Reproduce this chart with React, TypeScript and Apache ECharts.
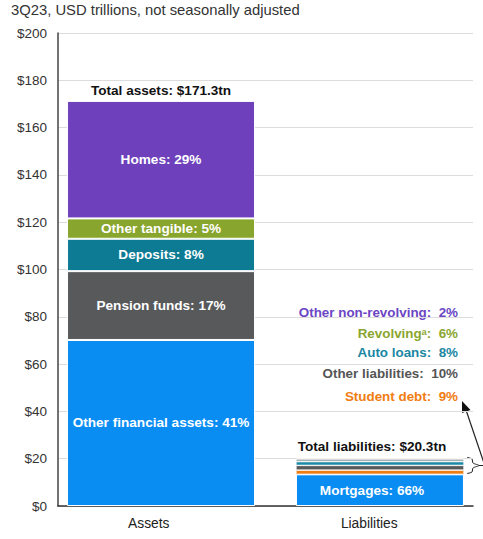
import React, { useEffect, useRef } from "react";
import * as echarts from "echarts";

const categories = ["Assets", "Liabilities"];
const yTicks = [0, 20, 40, 60, 80, 100, 120, 140, 160, 180, 200];

const assetNames = ["Other financial assets", "Pension funds", "Deposits", "Other tangible", "Homes"];
const assetValues = [70.2, 29.1, 13.7, 8.6, 49.7];
const assetPcts = [41, 17, 8, 5, 29];
const assetColors = ["#0A8DF2", "#58595B", "#0E7B94", "#88A52D", "#6E40BB"];

const liabNames = ["Mortgages", "Student debt", "Other liabilities", "Auto loans", "Revolving*", "Other non-revolving"];
const liabLabels = ["Mortgages", "Student debt", "Other liabilities", "Auto loans", "Revolving\u1D43", "Other non-revolving"];
const liabValues = [13.4, 1.77, 2.0, 1.6, 1.15, 0.38];
const liabPcts = [66, 9, 10, 8, 6, 2];
const liabColors = ["#0A8DF2", "#F07D12", "#58595B", "#1A8AA6", "#9AA5A9", "#88A52D"];
const liabTextColors = ["#0A8DF2", "#F07D12", "#555555", "#1A87A3", "#8AA62F", "#6B45C4"];

const totalAssets = 171.3;
const totalLiabilities = 20.3;

const FONT = "'Liberation Sans', Arial, sans-serif";
const A_W = 188;
const L_W = 168;
const GAP = "-88.6%";

export default function App() {
  const ref = useRef<HTMLDivElement>(null);
  useEffect(() => {
    if (!ref.current) return;
    const chart = echarts.init(ref.current, undefined, { renderer: "svg" });
    const boldLabel = {
      color: "#ffffff",
      fontWeight: "bold",
      fontSize: 13.6,
      fontFamily: FONT,
    };
    const series: any[] = [];
    assetNames.forEach((n, i) => {
      series.push({
        name: n,
        type: "bar",
        stack: "A",
        barWidth: A_W,
        barGap: GAP,
        data: [assetValues[i], "-"],
        itemStyle: { color: assetColors[i], borderColor: "#ffffff", borderWidth: 1 },
        label: { show: true, position: "inside", ...boldLabel, formatter: `${n}: ${assetPcts[i]}%` },
      });
    });
    series.push({
      name: "Total assets",
      type: "bar",
      stack: "A",
      barWidth: A_W,
      barGap: GAP,
      data: [0, "-"],
      itemStyle: { color: "transparent" },
      label: {
        show: true,
        position: "top",
        distance: 3,
        ...boldLabel,
        color: "#111111",
        formatter: `Total assets: $${totalAssets}tn`,
      },
    });
    liabNames.forEach((n, i) => {
      series.push({
        name: n,
        type: "bar",
        stack: "L",
        barWidth: L_W,
        barGap: GAP,
        data: ["-", liabValues[i]],
        itemStyle: { color: liabColors[i], borderColor: "#ffffff", borderWidth: i === 0 ? 1 : 0.6 },
        label: {
          show: i === 0,
          position: "inside",
          offset: [-8, 0],
          ...boldLabel,
          formatter: `${n}: ${liabPcts[i]}%`,
        },
      });
    });
    series.push({
      name: "Total liabilities",
      type: "bar",
      stack: "L",
      barWidth: L_W,
      barGap: GAP,
      data: ["-", 0],
      itemStyle: { color: "transparent" },
      label: {
        show: true,
        position: "top",
        distance: 4,
        offset: [-8, 0],
        ...boldLabel,
        color: "#111111",
        formatter: `Total liabilities: $${totalLiabilities}tn`,
      },
    });

    const annY = [396, 373, 352, 333, 312];
    const graphics: any[] = [
      {
        type: "text",
        left: 11,
        top: 2,
        style: { text: "3Q23, USD trillions, not seasonally adjusted", fill: "#333333", font: `14.8px ${FONT}` },
      },
    ];
    for (let i = 1; i < liabNames.length; i++) {
      graphics.push({
        type: "text",
        x: 458,
        y: annY[i - 1],
        style: {
          text: `${liabLabels[i]}:  ${liabPcts[i]}%`,
          fill: liabTextColors[i],
          font: `bold 13.4px ${FONT}`,
          align: "right",
          verticalAlign: "middle",
        },
      });
    }
    graphics.push(
      {
        type: "polyline",
        shape: {
          points: [
            [467, 457.5],
            [472, 459],
            [473, 463],
            [479, 465.5],
            [473, 468],
            [472, 472],
            [467, 473.5],
          ],
          smooth: 0.3,
        },
        style: { stroke: "#222222", lineWidth: 1, fill: "none" },
      },
      {
        type: "line",
        shape: { x1: 479, y1: 465.5, x2: 490, y2: 465.5 },
        style: { stroke: "#222222", lineWidth: 1 },
      },
      {
        type: "line",
        shape: { x1: 485, y1: 466, x2: 466, y2: 410 },
        style: { stroke: "#222222", lineWidth: 1.2 },
      },
      {
        type: "polygon",
        shape: { points: [[462, 401], [470.5, 410], [462, 413]] },
        style: { fill: "#111111" },
      }
    );

    chart.setOption({
      animation: false,
      grid: { left: 58, right: 10, top: 33, bottom: 33, containLabel: false },
      xAxis: {
        type: "category",
        data: categories,
        axisLine: { lineStyle: { color: "#333333", width: 1.5 } },
        axisTick: { show: false },
        axisLabel: {
          color: "#222222",
          fontSize: 13.8,
          fontFamily: FONT,
          margin: 10,
          formatter: (v: string, idx: number) => (idx === 0 ? `{a|${v}}` : `{b|${v}}`),
          rich: {
            a: { color: "#222222", fontSize: 13.8, fontFamily: FONT, padding: [0, 26, 0, 0] },
            b: { color: "#222222", fontSize: 13.8, fontFamily: FONT },
          },
        },
      },
      yAxis: {
        type: "value",
        min: yTicks[0],
        max: yTicks[yTicks.length - 1],
        interval: 20,
        axisLine: { show: true, lineStyle: { color: "#444444", width: 1.5 } },
        axisTick: { show: false },
        splitLine: { lineStyle: { color: "#dcdcdc", width: 1 } },
        axisLabel: { color: "#333333", fontSize: 13.5, fontFamily: FONT, margin: 11, formatter: (v: number) => `$${v}` },
      },
      series,
      graphic: graphics,
    });
    return () => chart.dispose();
  }, []);
  return <div ref={ref} style={{ position: "fixed", left: 0, top: 0, width: 483, height: 539, background: "#fff" }} />;
}
